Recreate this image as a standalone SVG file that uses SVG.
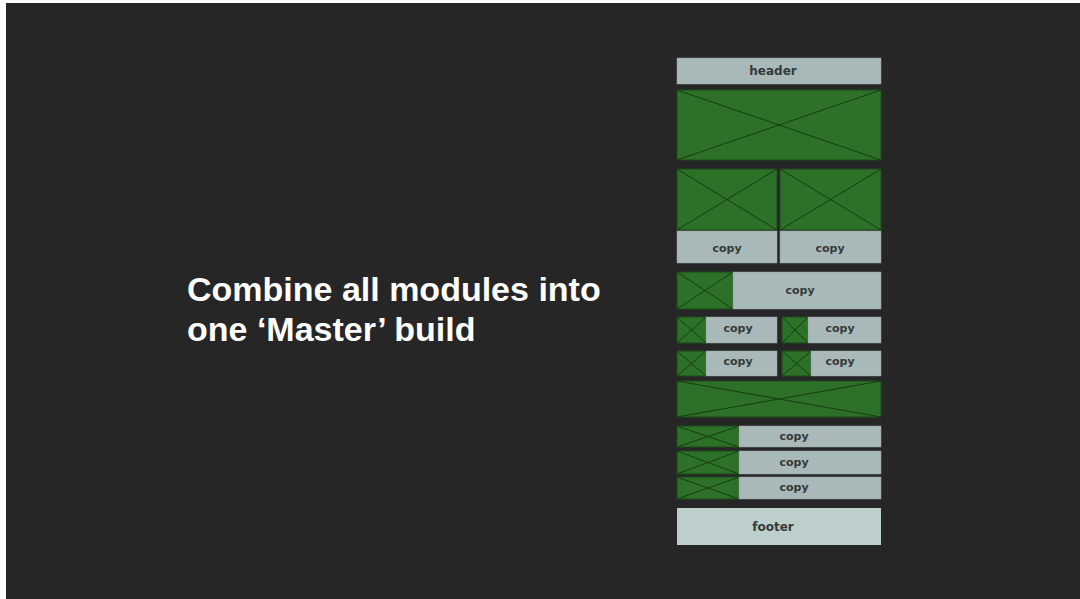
<svg xmlns="http://www.w3.org/2000/svg" width="1080" height="599" viewBox="0 0 1080 599">
<style>
.img{fill:#2d7027;stroke:#1e4a1a;stroke-width:1}
.x{stroke:#173d13;stroke-width:1;fill:none}
.cp{fill:#a9b9b9;stroke:#95a5a5;stroke-width:0.5}
.lb{font-family:"DejaVu Sans",Verdana,sans-serif;font-weight:bold;fill:#333a3a;text-anchor:middle}
.s{font-size:11px}
.m{font-size:12px}
.title{font-family:"Liberation Sans",Arial,sans-serif;font-weight:bold;font-size:34px;fill:#ffffff}
</style>
<rect x="0" y="0" width="1080" height="599" fill="#ffffff"/>
<rect x="6" y="3" width="1074" height="596" fill="#262626"/>
<g id="title">
<text class="title" x="187" y="301">Combine all modules into</text>
<text class="title" x="187" y="341">one ‘Master’ build</text>
</g>
<g id="header"><rect class="cp" x="677" y="58" width="204" height="26"/><text class="lb m" x="773" y="75">header</text></g>
<g id="hero"><rect class="img" x="677" y="90" width="204" height="70"/><path class="x" d="M677 90L881 160M881 90L677 160"/></g>
<g id="col2-left"><rect class="img" x="677" y="169" width="100" height="61"/><path class="x" d="M677 169L777 230M777 169L677 230"/><rect class="cp" x="677" y="231" width="100" height="32"/><text class="lb s" x="727" y="252">copy</text></g>
<g id="col2-right"><rect class="img" x="780" y="169" width="101" height="61"/><path class="x" d="M780 169L881 230M881 169L780 230"/><rect class="cp" x="780" y="231" width="101" height="32"/><text class="lb s" x="830" y="252">copy</text></g>
<g id="media-row"><rect class="img" x="677" y="272" width="56" height="37"/><path class="x" d="M677 272L733 309M733 272L677 309"/><rect class="cp" x="733" y="272" width="148" height="37"/><text class="lb s" x="800" y="294">copy</text></g>
<g id="small-1l"><rect class="img" x="677" y="317" width="29" height="26"/><path class="x" d="M677 317L706 343M706 317L677 343"/><rect class="cp" x="706" y="317" width="71" height="26"/><text class="lb s" x="738" y="332">copy</text></g>
<g id="small-1r"><rect class="img" x="782" y="317" width="26" height="26"/><path class="x" d="M782 317L808 343M808 317L782 343"/><rect class="cp" x="808" y="317" width="73" height="26"/><text class="lb s" x="840" y="332">copy</text></g>
<g id="small-2l"><rect class="img" x="677" y="351" width="29" height="25"/><path class="x" d="M677 351L706 376M706 351L677 376"/><rect class="cp" x="706" y="351" width="71" height="25"/><text class="lb s" x="738" y="365">copy</text></g>
<g id="small-2r"><rect class="img" x="782" y="351" width="29" height="25"/><path class="x" d="M782 351L811 376M811 351L782 376"/><rect class="cp" x="811" y="351" width="70" height="25"/><text class="lb s" x="840" y="365">copy</text></g>
<g id="banner"><rect class="img" x="677" y="381" width="204" height="36"/><path class="x" d="M677 381L881 417M881 381L677 417"/></g>
<g id="list-1"><rect class="img" x="677" y="426" width="62" height="21"/><path class="x" d="M677 426L739 447M739 426L677 447"/><rect class="cp" x="739" y="426" width="142" height="21"/><text class="lb s" x="794" y="440">copy</text></g>
<g id="list-2"><rect class="img" x="677" y="451" width="62" height="23"/><path class="x" d="M677 451L739 474M739 451L677 474"/><rect class="cp" x="739" y="451" width="142" height="23"/><text class="lb s" x="794" y="466">copy</text></g>
<g id="list-3"><rect class="img" x="677" y="477" width="62" height="22"/><path class="x" d="M677 477L739 499M739 477L677 499"/><rect class="cp" x="739" y="477" width="142" height="22"/><text class="lb s" x="794" y="491">copy</text></g>
<g id="footer"><rect x="677" y="508" width="204" height="37" fill="#bccfcc"/><text class="lb m" x="773" y="531">footer</text></g>
<g id="connectors"></g>
</svg>
